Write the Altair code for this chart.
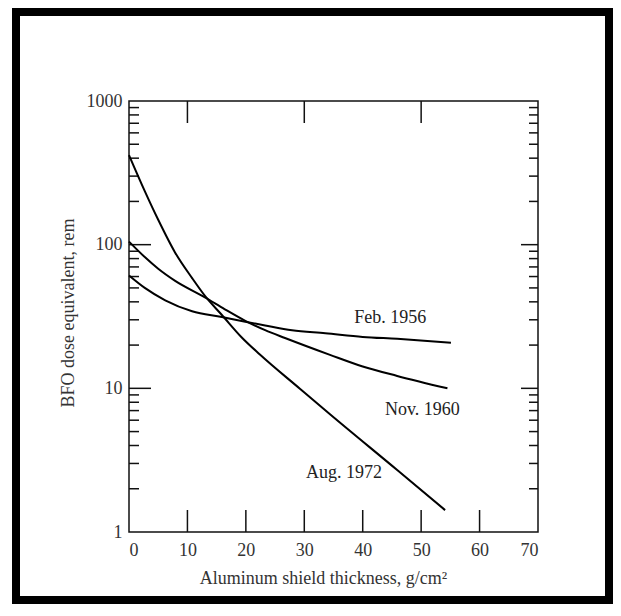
import altair as alt
import pandas as pd

# Curve readings (x: g/cm^2, y: rem)
feb_x = [0, 2.7, 6.2, 10.8, 15.9, 19.9, 23.3, 27.9, 33.6, 40, 45.9, 55.1]
feb_y = [61, 50, 41, 34.4, 31.4, 29.1, 27.4, 25.4, 24.2, 22.8, 22.1, 20.8]
nov_x = [0, 2.7, 5.0, 7.9, 13.0, 16.4, 19.9, 23.3, 26.7, 34.4, 40, 45.9, 54.5]
nov_y = [105, 82, 68, 56, 43, 35.5, 29.5, 25.4, 22.4, 17.1, 14.2, 12.2, 10]
aug_x = [0, 2.7, 5.0, 7.9, 10.8, 13.0, 15.9, 19.3, 22.4, 29.3, 34.4, 45.9, 54.1]
aug_y = [420, 236, 149, 88, 58.5, 44, 32.4, 22.6, 17.2, 9.9, 6.6, 2.7, 1.42]

series_names = ["Feb. 1956", "Nov. 1960", "Aug. 1972"]
label_x = [44.7, 50.2, 36.8]
label_y = [31, 7.1, 2.57]

x_labels = [0, 10, 20, 30, 40, 50, 60, 70]
y_labels = [1, 10, 100, 1000]
bottom_ticks = [10, 20, 30, 40, 50, 60]
top_ticks = [10, 30, 50]
y_major_ticks = [10, 100]
y_minor_ticks = [m * d for d in (1, 10, 100) for m in range(2, 10)]

FONT = "Liberation Serif"
FS = 18
W, H = 409, 431

rows = []
for name, xs, ys in zip(series_names, [feb_x, nov_x, aug_x], [feb_y, nov_y, aug_y]):
    for a, b in zip(xs, ys):
        rows.append({"series": name, "x": a, "y": b})
curves = pd.DataFrame(rows)
labels = pd.DataFrame({"series": series_names, "x": label_x, "y": label_y})

xscale = alt.Scale(domain=[0, 70], nice=False)
yscale = alt.Scale(type="log", domain=[1, 1000], nice=False)

lines = alt.Chart(curves).mark_line(
    interpolate="monotone", color="black", strokeWidth=2
).encode(
    x=alt.X("x:Q", scale=xscale,
            axis=alt.Axis(values=x_labels, ticks=False, domain=False, grid=False,
                          labelPadding=9, labelFontSize=FS, labelFont=FONT,
                          labelColor="#333", title="Aluminum shield thickness, g/cm²",
                          titleFont=FONT, titleFontSize=FS, titleFontWeight="normal",
                          titleColor="#333", titleX=194, titleY=46,
                          titleBaseline="middle", titleAlign="center")),
    y=alt.Y("y:Q", scale=yscale,
            axis=alt.Axis(values=y_labels, format="d", ticks=False, domain=False,
                          grid=False, labelPadding=7, labelFontSize=FS, labelFont=FONT,
                          labelColor="#333", title="BFO dose equivalent, rem",
                          titleFont=FONT, titleFontSize=FS, titleFontWeight="normal",
                          titleColor="#333", titleX=-61, titleY=H / 2 - 4, titleAngle=270,
                          titleBaseline="middle", titleAlign="center")),
    detail="series:N",
)

text = alt.Chart(labels).mark_text(font=FONT, fontSize=FS, color="#222").encode(
    x=alt.X("x:Q", scale=xscale), y=alt.Y("y:Q", scale=yscale), text="series:N"
)

ymin = pd.DataFrame({"v": y_minor_ticks})
ymaj = pd.DataFrame({"v": y_major_ticks})
tick_style = dict(color="#111", strokeWidth=1.5)

left_minor = alt.Chart(ymin).mark_rule(**tick_style).encode(
    y=alt.Y("v:Q", scale=yscale), x=alt.value(0), x2=alt.value(10))
left_major = alt.Chart(ymaj).mark_rule(**tick_style).encode(
    y=alt.Y("v:Q", scale=yscale), x=alt.value(0), x2=alt.value(22))
right_minor = alt.Chart(ymin).mark_rule(**tick_style).encode(
    y=alt.Y("v:Q", scale=yscale), x=alt.value(W), x2=alt.value(W - 9))
right_major = alt.Chart(ymaj).mark_rule(**tick_style).encode(
    y=alt.Y("v:Q", scale=yscale), x=alt.value(W), x2=alt.value(W - 17))
bottom = alt.Chart(pd.DataFrame({"v": bottom_ticks})).mark_rule(**tick_style).encode(
    x=alt.X("v:Q", scale=xscale), y=alt.value(H), y2=alt.value(H - 22))
top = alt.Chart(pd.DataFrame({"v": top_ticks})).mark_rule(**tick_style).encode(
    x=alt.X("v:Q", scale=xscale), y=alt.value(0), y2=alt.value(22))

frame = alt.Chart(pd.DataFrame({"a": [0]})).mark_rect(
    filled=False, stroke="black", strokeWidth=8
).encode(x=alt.value(-113), x2=alt.value(480), y=alt.value(-89), y2=alt.value(499))

chart = alt.layer(
    frame, left_minor, left_major, right_minor, right_major, bottom, top, lines, text
).properties(
    width=W, height=H,
    autosize=alt.AutoSizeParams(type="none"),
    padding={"left": 121, "top": 93, "right": 75, "bottom": 72},
    background="white",
).configure_view(stroke="#111", strokeWidth=1.5)

chart.save("out.html", embed_options={"renderer": "svg", "actions": False})
